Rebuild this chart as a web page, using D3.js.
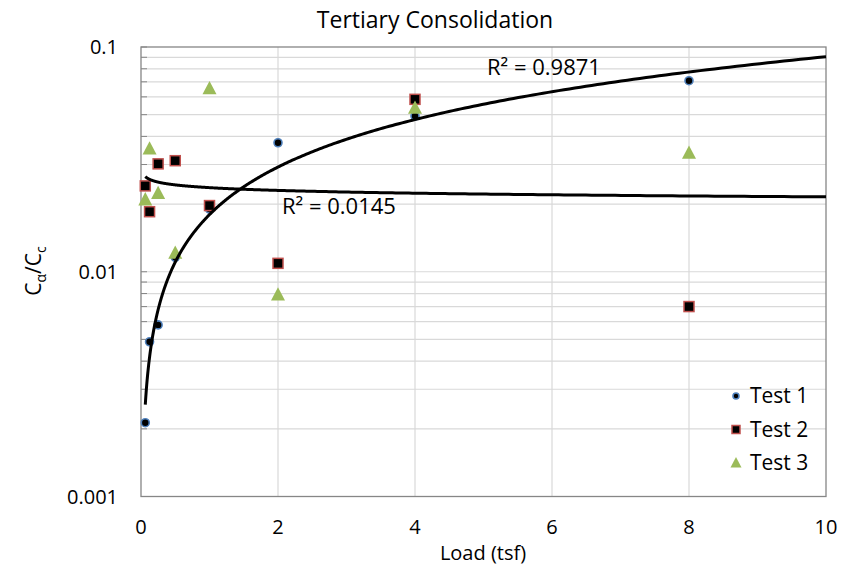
<!DOCTYPE html>
<html><head><meta charset="utf-8">
<script src="https://cdn.jsdelivr.net/npm/d3@7"></script>
<style>body{margin:0;background:#fff;} text{font-family:"Open Sans",sans-serif;fill:#000;}</style>
</head><body><svg id="c" width="856" height="571"></svg>
<script>
const loads = [0.0625, 0.125, 0.25, 0.5, 1, 2, 4, 8];
const test1 = [0.00213, 0.00488, 0.0058, 0.0116, 0.019, 0.0375, 0.0493, 0.0708];
const test2 = [0.0241, 0.0185, 0.0302, 0.0312, 0.0197, 0.0109, 0.0585, 0.0070];
const test3 = [0.0209, 0.0352, 0.0223, 0.0121, 0.0652, 0.00789, 0.0534, 0.0337];
// power trendlines y = c * x^p
const trendA = {c: 0.01796, p: 0.7025, label: "R² = 0.9871"};
const trendB = {c: 0.02367, p: -0.0409, label: "R² = 0.0145"};
const xTicks = [0, 2, 4, 6, 8, 10];
const yTicks = [0.001, 0.01, 0.1];
const seriesNames = ["Test 1", "Test 2", "Test 3"];

const svg = d3.select("#c");
const L = 141, R = 826, T = 47, B = 496.5;
const x = d3.scaleLinear().domain([0, 10]).range([L, R]);
const y = d3.scaleLog().domain([0.001, 0.1]).range([B, T]);

// grid
const minor = [];
[0.001, 0.01].forEach(d => { for (let k = 1; k <= 9; k++) minor.push(d * k); });
minor.push(0.1);
svg.append("g").selectAll("line").data(minor.filter(v => v > 0.001 && v < 0.1)).join("line")
  .attr("x1", L).attr("x2", R).attr("y1", d => y(d)).attr("y2", d => y(d))
  .attr("stroke", "#d9d9d9").attr("stroke-width", 1.2);
svg.append("g").selectAll("line").data([2, 4, 6, 8]).join("line")
  .attr("x1", d => x(d)).attr("x2", d => x(d)).attr("y1", T).attr("y2", B)
  .attr("stroke", "#d9d9d9").attr("stroke-width", 1.2);
// border
svg.append("rect").attr("x", L).attr("y", T).attr("width", R - L).attr("height", B - T)
  .attr("fill", "none").attr("stroke", "#868686").attr("stroke-width", 1.3);
// y ticks inward
svg.append("g").selectAll("line").data(minor).join("line")
  .attr("x1", L).attr("x2", L + 6).attr("y1", d => y(d)).attr("y2", d => y(d))
  .attr("stroke", "#868686").attr("stroke-width", 1);

// tick labels
svg.append("g").selectAll("text").data(yTicks).join("text")
  .attr("x", 118).attr("y", d => y(d)).attr("dy", "0.35em").attr("text-anchor", "end")
  .attr("font-size", 20).text(d => String(d));
svg.append("g").selectAll("text").data(xTicks).join("text")
  .attr("x", d => x(d)).attr("y", 534).attr("text-anchor", "middle")
  .attr("font-size", 20).text(d => d);

// titles
svg.append("text").attr("x", 435).attr("y", 28).attr("text-anchor", "middle")
  .attr("font-size", 23).text("Tertiary Consolidation");
svg.append("text").attr("x", 483).attr("y", 560).attr("text-anchor", "middle")
  .attr("font-size", 20).text("Load (tsf)");
const yl = svg.append("text").attr("transform", "translate(41,271) rotate(-90)")
  .attr("text-anchor", "middle").attr("font-size", 21);
yl.append("tspan").text("C");
yl.append("tspan").attr("font-size", 14).attr("dy", 5).text("α");
yl.append("tspan").attr("dy", -5).text("/C");
yl.append("tspan").attr("font-size", 14).attr("dy", 5).text("c");

// markers
const circ = (g, cx, cy, r) => g.append("circle").attr("cx", cx).attr("cy", cy).attr("r", r)
  .attr("fill", "#000").attr("stroke", "#4f81bd").attr("stroke-width", 1.6);
const sq = (g, cx, cy, s) => g.append("rect").attr("x", cx - s / 2).attr("y", cy - s / 2)
  .attr("width", s).attr("height", s).attr("fill", "#000").attr("stroke", "#c0504d").attr("stroke-width", 1.5);
const tri = (g, cx, cy, s) => g.append("path")
  .attr("d", `M${cx},${cy - s * 0.55}L${cx + s / 2},${cy + s * 0.4}L${cx - s / 2},${cy + s * 0.4}Z`)
  .attr("fill", "#9bbb59");

const gm = svg.append("g");
loads.forEach((l, i) => circ(gm, x(l), y(test1[i]), 4));
loads.forEach((l, i) => sq(gm, x(l), y(test2[i]), 10));
loads.forEach((l, i) => tri(gm, x(l), y(test3[i]), 14));

// trendlines
const line = d3.line().x(d => x(d[0])).y(d => y(d[1]));
[trendA, trendB].forEach(t => {
  const pts = d3.range(0, 401).map(k => {
    const xv = 0.0625 * Math.pow(10 / 0.0625, k / 400);
    return [xv, t.c * Math.pow(xv, t.p)];
  });
  svg.append("path").attr("d", line(pts)).attr("fill", "none")
    .attr("stroke", "#000").attr("stroke-width", 3);
});
svg.append("text").attr("x", 487).attr("y", 75).attr("font-size", 22).text(trendA.label);
svg.append("text").attr("x", 282).attr("y", 214).attr("font-size", 22).text(trendB.label);

// legend
const lg = svg.append("g");
const ly = [396, 429.5, 463];
circ(lg, 736, ly[0], 3);
sq(lg, 736, ly[1], 8);
tri(lg, 736, ly[2], 11);
lg.selectAll("text").data(seriesNames).join("text")
  .attr("x", 750).attr("y", (d, i) => ly[i]).attr("dy", "0.35em").attr("font-size", 21).text(d => d);
</script></body></html>
